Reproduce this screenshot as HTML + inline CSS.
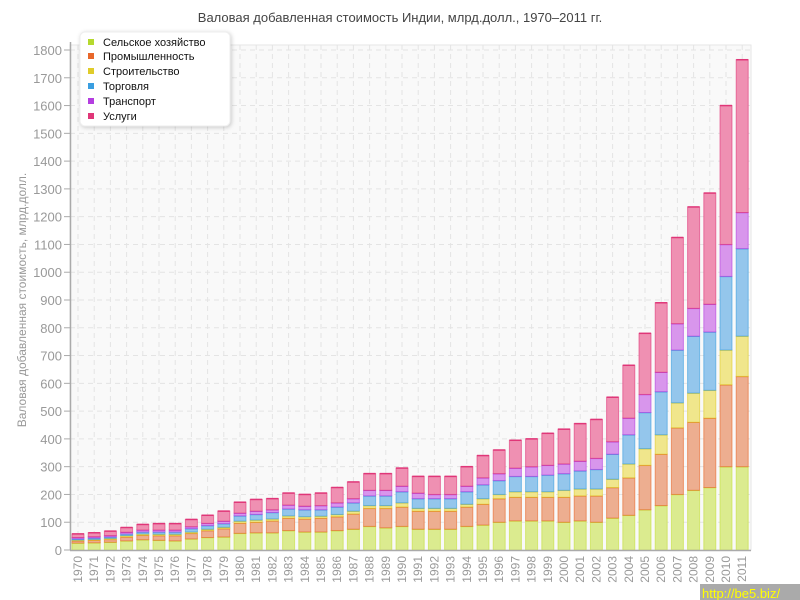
<!DOCTYPE html>
<html><head><meta charset="utf-8"><style>
body{margin:0;background:#fff;}
svg{display:block;font-family:"Liberation Sans","DejaVu Sans",sans-serif;}
</style></head><body>
<svg id="s" width="800" height="600" xmlns="http://www.w3.org/2000/svg">
<rect width="800" height="600" fill="#fff"/>
<text x="400" y="22" text-anchor="middle" font-size="13" fill="#444">Валовая добавленная стоимость Индии, млрд.долл., 1970–2011 гг.</text>
<rect x="70" y="45" width="681" height="505" fill="#f9f9f9" stroke="#e6e6e6"/>
<g id="grid"></g>
<g id="bars"></g>
<line x1="70.5" y1="42" x2="70.5" y2="550" stroke="#aaa" stroke-width="1.5"/>
<line x1="70" y1="550.5" x2="751" y2="550.5" stroke="#aaa" stroke-width="1.5"/>
<g id="ylab" font-size="13" fill="#999" text-anchor="end"></g>
<g id="xlab" font-size="12" fill="#999" text-anchor="end"></g>
<text transform="translate(26,300) rotate(-90)" text-anchor="middle" font-size="12" fill="#999">Валовая добавленная стоимость, млрд.долл.</text>
<rect x="80" y="32" width="150" height="94" rx="5" fill="#fff" stroke="#eee" style="filter:drop-shadow(1px 1px 2px rgba(0,0,0,.2))"/>
<g font-size="11" fill="#111">
<rect x="88" y="39" width="6" height="6" fill="#b5d92e"/><text x="103" y="46">Сельское хозяйство</text>
<rect x="88" y="53" width="6" height="6" fill="#e8672a"/><text x="103" y="60">Промышленность</text>
<rect x="88" y="68" width="6" height="6" fill="#e0cc2a"/><text x="103" y="75">Строительство</text>
<rect x="88" y="83" width="6" height="6" fill="#3a9ee0"/><text x="103" y="90">Торговля</text>
<rect x="88" y="98" width="6" height="6" fill="#b43ee0"/><text x="103" y="105">Транспорт</text>
<rect x="88" y="113" width="6" height="6" fill="#e03678"/><text x="103" y="120">Услуги</text>
</g>
<rect x="700" y="584" width="100" height="16" fill="#aaa"/>
<text x="702" y="598" font-size="13" fill="#ff0">http://be5.biz/</text>
</svg>
<script>
var D=[[25,33,36,40,45,58],[26,35,38,43,48,62],[28,38,42,47,52,68],[33,47,52,58,64,81],[37,53,58,65,72,92],[35,52,57,65,72,95],[33,52,57,65,72,95],[40,60,65,77,84,110],[45,70,75,88,96,125],[47,77,82,95,104,140],[60,97,104,123,133,172],[62,100,108,128,140,182],[62,105,112,135,145,185],[70,115,123,148,162,205],[65,112,120,145,158,200],[65,115,122,145,160,205],[70,120,128,155,170,225],[75,130,140,170,185,245],[85,150,160,195,215,275],[80,150,160,195,215,275],[85,155,170,210,230,295],[75,140,150,185,205,265],[75,140,150,185,200,265],[75,140,150,185,200,265],[85,155,165,210,230,300],[90,165,185,235,260,340],[100,185,200,250,275,360],[105,190,210,265,295,395],[105,190,210,265,300,400],[105,190,210,270,305,420],[100,190,215,275,310,435],[105,195,220,285,320,455],[100,195,220,290,330,470],[115,225,255,345,390,550],[125,260,310,415,475,665],[145,305,365,495,560,780],[160,345,415,570,640,890],[200,440,530,720,815,1125],[215,460,565,770,870,1235],[225,475,575,785,885,1285],[300,595,720,985,1100,1600],[300,625,770,1085,1215,1765]];
var F=["#dbeb8f","#edae90","#f0e68c","#94c6ec","#d896ec","#ef90b2"],S=["#c5e03a","#e8672a","#e0cc2a","#3a9ee0","#b43ee0","#e03678"];
var ns="http://www.w3.org/2000/svg";function el(g,t,a,tx){var e=document.createElementNS(ns,t);for(var k in a)e.setAttribute(k,a[k]);if(tx)e.textContent=tx;document.getElementById(g).appendChild(e);}
function Y(v){return 550-v*500/1800;}
for(var v=0;v<=1800;v+=100){var y=Y(v);if(v>0)el("grid","line",{x1:70,x2:751,y1:y,y2:y,stroke:"#e4e4e4","stroke-dasharray":"5,4"});el("ylab","line",{x1:64,x2:70,y1:y,y2:y,stroke:"#aaa"});el("ylab","text",{x:62,y:y+5},""+v);}
for(var i=0;i<42;i++){var cx=78+i*16.2;el("grid","line",{x1:cx,x2:cx,y1:45,y2:550,stroke:"#e4e4e4","stroke-dasharray":"5,4"});
var p=0;for(var j=0;j<6;j++){var t=D[i][j];el("bars","rect",{x:cx-6,y:Y(t),width:12,height:Y(p)-Y(t),fill:F[j],stroke:S[j],"stroke-opacity":0.6,"stroke-width":1});el("bars","line",{x1:cx-6,x2:cx+6,y1:Y(t),y2:Y(t),stroke:S[j],"stroke-width":1.5});p=t;}
el("xlab","text",{transform:"translate("+(cx+4)+",556) rotate(-90)"},""+(1970+i));}
</script>
</body></html>
